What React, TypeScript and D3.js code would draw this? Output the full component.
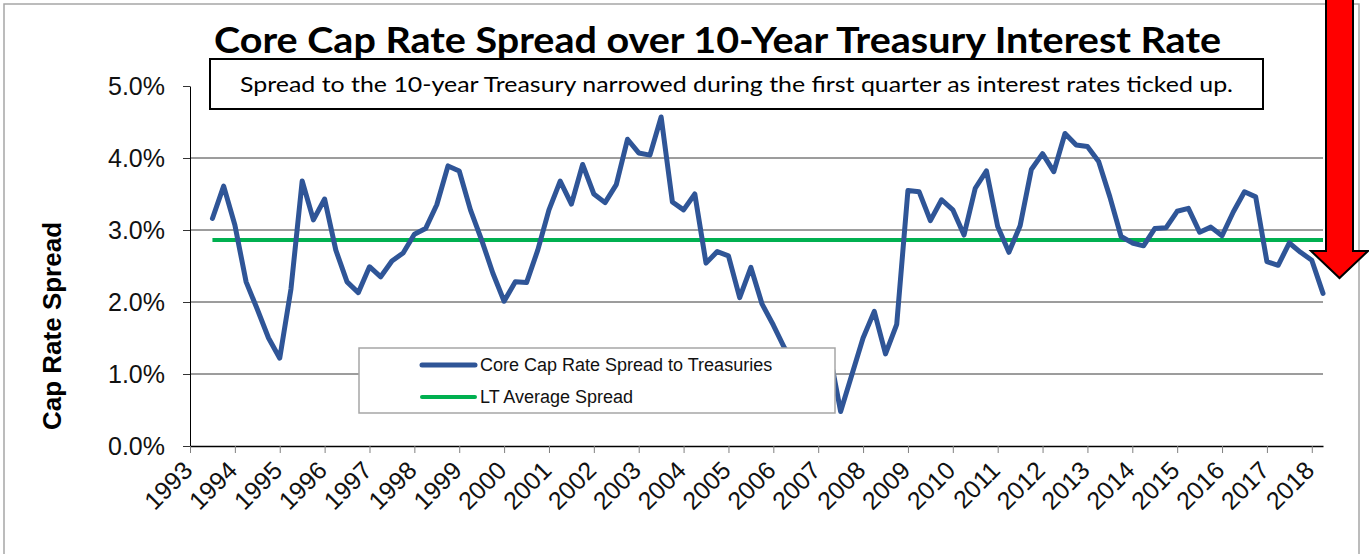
import * as d3 from 'd3';
import * as React from 'react';

const { useRef, useEffect } = React;

const width = 1369;
const height = 554;
const plot = { left: 190, right: 1323, top: 86, bottom: 446 };

// quarterly spread, first point is Q2 1993, last is Q1 2018
const firstQuarter = 1993.5;
const spread = [
  3.16, 3.61, 3.07, 2.28, 1.9, 1.5, 1.22, 2.18, 3.68, 3.14,
  3.43, 2.72, 2.28, 2.13, 2.49, 2.35, 2.57, 2.68, 2.94, 3.02,
  3.35, 3.89, 3.82, 3.28, 2.86, 2.4, 2.01, 2.28, 2.27, 2.72,
  3.28, 3.68, 3.36, 3.91, 3.5, 3.38, 3.63, 4.26, 4.07, 4.04,
  4.57, 3.39, 3.28, 3.5, 2.54, 2.7, 2.64, 2.06, 2.48, 1.97,
  1.68, 1.36, 1.15, 1.05, 1.15, 1.3, 0.48, 0.99, 1.5, 1.87,
  1.28, 1.69, 3.55, 3.53, 3.13, 3.42, 3.28, 2.93, 3.58, 3.82,
  3.05, 2.69, 3.06, 3.84, 4.06, 3.81, 4.34, 4.18, 4.16, 3.95,
  3.46, 2.91, 2.82, 2.78, 3.02, 3.03, 3.26, 3.3, 2.97, 3.04,
  2.92, 3.25, 3.53, 3.46, 2.56, 2.51, 2.82, 2.69, 2.58, 2.12,
];
const ltAverage = 2.86;

const yearTicks = [
  1993, 1994, 1995, 1996, 1997, 1998, 1999, 2000, 2001, 2002, 2003, 2004, 2005,
  2006, 2007, 2008, 2009, 2010, 2011, 2012, 2013, 2014, 2015, 2016, 2017, 2018,
];
const yTicks = [0, 1, 2, 3, 4, 5];
const gridTicks = [1, 2, 3, 4];

const title = 'Core Cap Rate Spread over 10-Year Treasury Interest Rate';
const subtitle =
  'Spread to the 10-year Treasury narrowed during the first quarter as interest rates ticked up.';
const seriesNames = ['Core Cap Rate Spread to Treasuries', 'LT Average Spread'];

const blue = '#2f5597';
const green = '#00b050';
const arial = '"Liberation Sans", Arial, sans-serif';
const calibri = 'Lato, "Open Sans", sans-serif';

export default () => {
  const rootRef = useRef<SVGSVGElement>(null);

  useEffect(() => {
    const rootEl = rootRef.current;
    if (!rootEl) {
      return;
    }

    const svg = d3.select(rootEl);
    svg.selectAll('*').remove();

    const quarters = spread.map((_, i) => firstQuarter + i * 0.25);

    const x = d3
      .scaleLinear()
      .domain([1993, 2018.25])
      .range([plot.left, plot.right]);

    const y = d3
      .scaleLinear()
      .domain([0, 5])
      .range([plot.bottom, plot.top]);

    // outer chart border
    svg
      .append('rect')
      .attr('x', 4)
      .attr('y', 4)
      .attr('width', 1355)
      .attr('height', 600)
      .attr('fill', 'none')
      .attr('stroke', '#a6a6a6')
      .attr('stroke-width', 1.5);

    // gridlines
    svg
      .append('g')
      .selectAll('line')
      .data(gridTicks)
      .join('line')
      .attr('x1', plot.left)
      .attr('x2', plot.right)
      .attr('y1', d => y(d))
      .attr('y2', d => y(d))
      .attr('stroke', '#3a3a3a')
      .attr('stroke-width', 1);

    // y axis
    svg
      .append('g')
      .attr('transform', `translate(${plot.left},0)`)
      .call(
        d3
          .axisLeft(y)
          .tickValues(yTicks)
          .tickSize(7)
          .tickSizeOuter(0)
          .tickPadding(18)
          .tickFormat(d => `${(d as number).toFixed(1)}%`),
      )
      .call(g => g.select('.domain').attr('stroke', '#000'))
      .call(g => g.selectAll('.tick line').attr('stroke', '#333'))
      .call(g =>
        g
          .selectAll('.tick text')
          .attr('fill', '#111')
          .style('font', `25px ${arial}`),
      );

    // x axis
    svg
      .append('g')
      .attr('transform', `translate(0,${plot.bottom})`)
      .call(
        d3
          .axisBottom(x)
          .tickValues(yearTicks)
          .tickSize(7)
          .tickSizeOuter(0)
          .tickFormat(() => ''),
      )
      .call(g => g.select('.domain').attr('stroke', '#000').attr('stroke-width', 1.5))
      .call(g => g.selectAll('.tick line').attr('stroke', '#808080'));

    svg
      .append('g')
      .selectAll('text')
      .data(yearTicks)
      .join('text')
      .attr('transform', d => `translate(${x(d) + 4},${plot.bottom + 26}) rotate(-45)`)
      .attr('text-anchor', 'end')
      .style('font', `25px ${arial}`)
      .attr('fill', '#111')
      .text(d => d);

    // y axis title
    svg
      .append('text')
      .attr('transform', `translate(61,326) rotate(-90)`)
      .attr('text-anchor', 'middle')
      .style('font', `bold 26px ${arial}`)
      .attr('fill', '#000')
      .text('Cap Rate Spread');

    // long-term average
    svg
      .append('line')
      .attr('x1', x(quarters[0]))
      .attr('x2', x(quarters[quarters.length - 1]))
      .attr('y1', y(ltAverage))
      .attr('y2', y(ltAverage))
      .attr('stroke', green)
      .attr('stroke-width', 4);

    const line = d3
      .line<number>()
      .x((d, i) => x(quarters[i]))
      .y(d => y(d));

    svg
      .append('path')
      .datum(spread)
      .attr('fill', 'none')
      .attr('stroke', blue)
      .attr('stroke-width', 5)
      .attr('stroke-linejoin', 'round')
      .attr('stroke-linecap', 'round')
      .attr('d', line);

    // legend
    const legend = svg.append('g').attr('transform', 'translate(359,348)');
    legend
      .append('rect')
      .attr('width', 476)
      .attr('height', 65)
      .attr('fill', '#fff')
      .attr('stroke', '#a6a6a6')
      .attr('stroke-width', 1.5);

    const items = legend
      .selectAll('g')
      .data(seriesNames)
      .join('g')
      .attr('transform', (d, i) => `translate(0,${17 + i * 32})`);

    items
      .append('line')
      .attr('x1', 63)
      .attr('x2', 116)
      .attr('stroke', (d, i) => (i === 0 ? blue : green))
      .attr('stroke-width', (d, i) => (i === 0 ? 5 : 4))
      .attr('stroke-linecap', 'round');

    items
      .append('text')
      .attr('x', 121)
      .attr('y', 6)
      .style('font', `18px ${arial}`)
      .attr('fill', '#111')
      .text(d => d);

    // subtitle box
    svg
      .append('rect')
      .attr('x', 210)
      .attr('y', 59)
      .attr('width', 1053)
      .attr('height', 50)
      .attr('fill', '#fff')
      .attr('stroke', '#000')
      .attr('stroke-width', 2);

    svg
      .append('text')
      .attr('x', 240)
      .attr('y', 92)
      .attr('textLength', 993)
      .attr('lengthAdjust', 'spacingAndGlyphs')
      .style('font', `22px ${calibri}`)
      .attr('fill', '#000')
      .text(subtitle);

    svg
      .append('text')
      .attr('x', 214)
      .attr('y', 53)
      .attr('textLength', 1007)
      .attr('lengthAdjust', 'spacingAndGlyphs')
      .style('font', `bold 37px ${calibri}`)
      .attr('fill', '#000')
      .text(title);

    // red down arrow
    svg
      .append('polygon')
      .attr(
        'points',
        [
          [1326, -4],
          [1353, -4],
          [1353, 251],
          [1368, 251],
          [1339.5, 278],
          [1311, 251],
          [1326, 251],
        ]
          .map(p => p.join(','))
          .join(' '),
      )
      .attr('fill', '#ff0000')
      .attr('stroke', '#000')
      .attr('stroke-width', 2)
      .attr('stroke-linejoin', 'miter');
  }, []);

  return (
    <svg
      ref={rootRef}
      width={width}
      height={height}
      style={{ position: 'absolute', left: 0, top: 0, background: '#fff' }}
    />
  );
};
